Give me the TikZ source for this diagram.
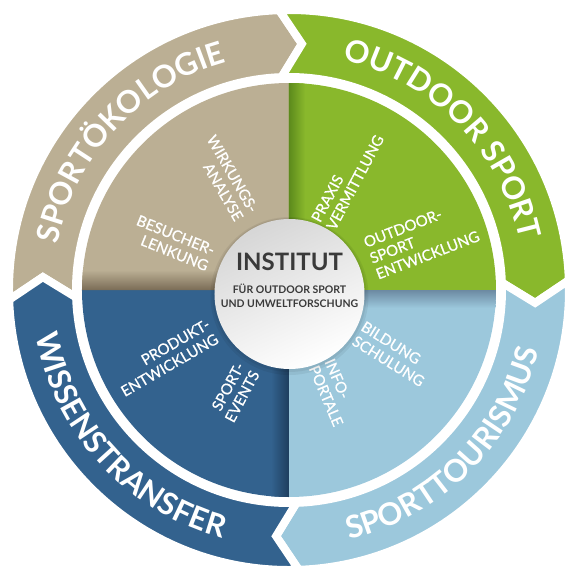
\documentclass[tikz,border=0pt]{standalone}
\usepackage{fontspec}
\setmainfont{Lato}
\newfontface\medfont{Lato}[FakeBold=0.7]
\usetikzlibrary{decorations.text}
\definecolor{oekotan}{RGB}{187,175,148}
\definecolor{oekodk}{RGB}{122,108,86}
\definecolor{outgreen}{RGB}{137,184,44}
\definecolor{outgreendk}{RGB}{92,138,28}
\definecolor{tourblue}{RGB}{156,200,220}
\definecolor{tourbluedk}{RGB}{108,138,162}
\definecolor{transblue}{RGB}{51,98,142}
\definecolor{transbluedk}{RGB}{30,62,94}
\definecolor{insgrey}{RGB}{58,58,58}
% radii: outer ring, inner ring, ring middle, quadrants
\def\Ro{280}
\def\Ri{213}
\def\Rm{246.5}
\def\Rq{207}
\def\ringfont{\color{white}\fontsize{31}{31}\selectfont\bfseries}
\begin{document}
\begin{tikzpicture}[x=1pt,y=1pt,
  lbl/.style={white, font=\fontsize{15}{17}\selectfont\medfont, inner sep=0pt},
  ringtext/.style={decorate, decoration={text along path, text align=center, text={|\ringfont|#1}}}]
\useasboundingbox (-289,-289) rectangle (287,290);
%quadrants
\foreach \a/\col in {90/oekotan,0/outgreen,-90/tourblue,180/transblue}
  \fill[\col] (0,0) -- (\a:\Rq) arc[start angle=\a, end angle=\a+90, radius=\Rq] -- cycle;
%shadows at the edges
\begin{scope}
\clip (0,0) -- (180:\Rq) arc[start angle=180, end angle=90, radius=\Rq] -- cycle;
\shade[top color=oekotan, bottom color=oekodk] (-\Rq,0) rectangle (0,20);
\end{scope}
\begin{scope}
\clip (0,0) -- (90:\Rq) arc[start angle=90, end angle=0, radius=\Rq] -- cycle;
\shade[left color=outgreendk, right color=outgreen] (0,0) rectangle (16,\Rq);
\end{scope}
\begin{scope}
\clip (0,0) -- (0:\Rq) arc[start angle=0, end angle=-90, radius=\Rq] -- cycle;
\shade[top color=tourbluedk, bottom color=tourblue] (0,-18) rectangle (\Rq,0);
\end{scope}
\begin{scope}
\clip (0,0) -- (-90:\Rq) arc[start angle=-90, end angle=-180, radius=\Rq] -- cycle;
\shade[left color=transblue, right color=transbluedk] (-18,-\Rq) rectangle (0,0);
\end{scope}
%ring arrows
\foreach \s/\col in {182/oekotan,92/outgreen,2/tourblue,-88/transblue}
  \filldraw[fill=\col, draw=white, line width=8pt]
    (\s:\Ro) arc[start angle=\s, end angle=\s-90, radius=\Ro] -- (\s-95:\Rm)
    -- (\s-90:\Ri) arc[start angle=\s-90, end angle=\s, radius=\Ri] -- (\s-5:\Rm) -- cycle;
%ring texts
\path[ringtext=SPORTÖKOLOGIE] (187:236) arc[start angle=187, end angle=87, radius=236];
\path[ringtext=OUTDOOR SPORT] (94.5:236) arc[start angle=94.5, end angle=-5.5, radius=236];
\path[ringtext=SPORTTOURISMUS] (-95:257) arc[start angle=-95, end angle=5, radius=257];
\path[ringtext=WISSENSTRANSFER] (172.5:257) arc[start angle=172.5, end angle=272.5, radius=257];
%inner labels
\node[lbl, align=right, rotate=-60] (wirkung) at (119.7:129) {WIRKUNGS-\\ANALYSE};
\node[lbl, align=right, rotate=-22] (besucher) at (158:125.6) {BESUCHER-\\LENKUNG};
\node[lbl, align=left, rotate=62] (praxis) at (62.3:126) {PRAXIS\\VERMITTLUNG};
\node[lbl, align=left, rotate=21] (odsport) at (21:142) {OUTDOOR-\\SPORT\\ENTWICKLUNG};
\node[lbl, align=right, rotate=30] (produkt) at (208.7:141) {PRODUKT-\\ENTWICKLUNG};
\node[lbl, align=right, rotate=62] (events) at (242:116) {SPORT-\\EVENTS};
\node[lbl, align=left, rotate=-32] (bildung) at (-31.6:122) {BILDUNG\\SCHULUNG};
\node[lbl, align=left, rotate=-67] (info) at (-66.3:112) {INFO-\\PORTALE};
%centre
\fill[black, opacity=0.06] (0.5,-6) circle (79);
\fill[black, opacity=0.06] (0.5,-5) circle (77);
\shade[top color=black!16, bottom color=white, shading angle=25] (0.5,-4) circle (75);
\node[anchor=base, text=insgrey, font=\fontsize{24}{24}\selectfont\bfseries] (institut) at (0.5,20) {INSTITUT};
\node[anchor=base, text=insgrey, font=\fontsize{10.5}{12}\selectfont\bfseries] (fuer) at (0.5,-3) {FÜR OUTDOOR SPORT};
\node[anchor=base, text=insgrey, font=\fontsize{10.5}{12}\selectfont\bfseries] (umwelt) at (0.5,-17) {UND UMWELTFORSCHUNG};
\end{tikzpicture}
\end{document}
